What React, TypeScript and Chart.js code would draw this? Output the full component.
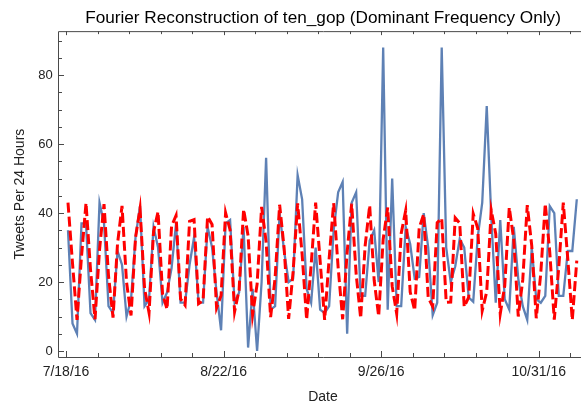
import { useEffect, useRef } from "react";
import { Chart, registerables } from "chart.js";

Chart.register(...registerables);

// Daily tweet counts starting 7/18/16 (one value per day)
const tweetCounts = [
  35, 8, 5, 37, 37, 11, 9, 43, 37, 13,
  11, 29, 25, 10, 15, 33, 42, 13, 15, 36,
  30, 14, 17, 24, 37, 14, 14, 25, 33, 14,
  14, 36, 30, 17, 6, 37, 38, 14, 17, 36,
  1, 18, 0, 20, 56, 12, 13, 40, 29, 20,
  21, 51, 44, 18, 14, 30, 12, 11, 13, 35,
  46, 49, 5, 43, 46, 16, 16, 32, 35, 20,
  88, 12, 50, 13, 13, 36, 31, 21, 21.5, 40,
  30, 10.4, 14, 88, 30, 20, 24.5, 32.5, 30, 15.5,
  14.3, 33, 43, 71, 39, 14, 38, 15, 12, 36,
  21, 13, 9, 30, 15, 14, 16, 42, 40, 16,
  16, 29, 29, 44,
];

// Dominant-frequency reconstruction
const fourierFit = [
  43.0, 25.5, 9.0, 27.4, 42.9, 23.6, 9.2, 29.3, 42.6, 21.8,
  9.7, 31.1, 42.1, 20.0, 10.3, 32.9, 41.3, 18.2, 11.1, 34.6,
  40.4, 16.6, 12.1, 36.2, 39.3, 15.1, 13.3, 37.6, 38.1, 13.7,
  14.6, 39.0, 36.7, 12.5, 16.1, 40.1, 35.1, 11.4, 17.7, 41.1,
  33.4, 10.5, 19.4, 41.8, 31.7, 9.8, 21.2, 42.4, 29.9, 9.3,
  23.0, 42.8, 28.0, 9.1, 24.9, 43.0, 26.1, 9.0, 26.8, 42.9,
  24.2, 9.2, 28.7, 42.7, 22.3, 9.5, 30.6, 42.2, 20.5, 10.1,
  32.4, 41.6, 18.8, 10.8, 34.1, 40.7, 17.1, 11.8, 35.7, 39.7,
  15.5, 12.9, 37.2, 38.5, 14.1, 14.2, 38.6, 37.1, 12.8, 15.6,
  39.8, 35.6, 11.7, 17.2, 40.8, 34.0, 10.8, 18.9, 41.6, 32.3,
  10.0, 20.6, 42.3, 30.5, 9.5, 22.5, 42.7, 28.6, 9.1, 24.3,
  43.0, 26.7, 9.0, 26.2,
];

const sampleOffsetDays = 0.44; // time of day of each daily sample, in days
const xTickDays = [0, 35, 70, 105];
const xTickLabels = ["7/18/16", "8/22/16", "9/26/16", "10/31/16"];
const xMinorStepDays = 7;
const yTickValues = [0, 20, 40, 60, 80];
const yMinorStep = 5;

const FONT = "'Liberation Sans', Arial, Helvetica, sans-serif";

const framePlugin = {
  id: "frame",
  afterDatasetsDraw(chart: any) {
    const { ctx, chartArea, scales } = chart;
    const { left, right, top, bottom } = chartArea;
    const x = scales.x;
    const y = scales.y;
    ctx.save();
    ctx.strokeStyle = "#4a4a4a";
    ctx.lineWidth = 1;
    ctx.beginPath();
    ctx.rect(left + 0.5, top + 0.5, right - left, bottom - top);
    for (let d = 0; d <= x.max; d += xMinorStepDays) {
      if (d < x.min) continue;
      const px = Math.round(x.getPixelForValue(d)) + 0.5;
      const major = xTickDays.includes(d);
      ctx.moveTo(px, bottom);
      ctx.lineTo(px, bottom - (major ? 6 : 4));
      ctx.moveTo(px, top);
      ctx.lineTo(px, top + (major ? 4 : 3));
    }
    for (let v = 0; v <= y.max; v += yMinorStep) {
      const py = Math.round(y.getPixelForValue(v)) + 0.5;
      const major = yTickValues.includes(v);
      ctx.moveTo(left, py);
      ctx.lineTo(left + (major ? 6 : 4), py);
      ctx.moveTo(right, py);
      ctx.lineTo(right - (major ? 6 : 4), py);
    }
    ctx.stroke();
    ctx.restore();
  },
};

export default function App() {
  const canvasRef = useRef<HTMLCanvasElement | null>(null);

  useEffect(() => {
    const canvas = canvasRef.current;
    if (!canvas) return;
    const chart = new Chart(canvas, {
      type: "line",
      data: {
        datasets: [
          {
            label: "Fourier",
            data: fourierFit.map((v, i) => ({ x: i + sampleOffsetDays, y: v })),
            borderColor: "#ff0000",
            borderWidth: 3,
            borderDash: [10, 4],
            pointRadius: 0,
            tension: 0,
            fill: false,
            order: 0,
          },
          {
            label: "ten_gop",
            data: tweetCounts.map((v, i) => ({ x: i + sampleOffsetDays, y: v })),
            borderColor: "#5e81b5",
            borderWidth: 2.3,
            pointRadius: 0,
            tension: 0,
            fill: false,
            order: 1,
          },
        ],
      },
      options: {
        responsive: false,
        animation: false,
        devicePixelRatio: 1,
        layout: { padding: { left: 0, right: 2, top: 0, bottom: 0 } },
        plugins: {
          legend: { display: false },
          tooltip: { enabled: false },
          title: {
            display: true,
            text: "Fourier Reconstruction of ten_gop (Dominant Frequency Only)",
            fullSize: false,
            color: "#000",
            font: { family: FONT, size: 17.2, weight: "normal" },
            padding: { top: 7.5, bottom: 3 },
          },
        },
        scales: {
          x: {
            type: "linear",
            min: -1.78,
            max: 115.93,
            grid: { display: false, drawTicks: false },
            border: { display: false },
            afterBuildTicks: (axis: any) => {
              axis.ticks = xTickDays.map((v) => ({ value: v }));
            },
            afterFit: (axis: any) => {
              axis.height = 49;
            },
            ticks: {
              autoSkip: false,
              maxRotation: 0,
              padding: 6.5,
              color: "#222",
              font: { family: FONT, size: 14 },
              callback: (value: any) => {
                const idx = xTickDays.indexOf(Number(value));
                return idx >= 0 ? xTickLabels[idx] : "";
              },
            },
            title: {
              display: true,
              text: "Date",
              color: "#222",
              font: { family: FONT, size: 14 },
              padding: { top: 0, bottom: 0 },
            },
          },
          y: {
            min: -1.74,
            max: 92.75,
            grid: { display: false, drawTicks: false },
            border: { display: false },
            afterBuildTicks: (axis: any) => {
              axis.ticks = yTickValues.map((v) => ({ value: v }));
            },
            afterFit: (axis: any) => {
              axis.width = 58;
            },
            ticks: {
              padding: 5.3,
              color: "#222",
              font: { family: FONT, size: 13 },
            },
            title: {
              display: true,
              text: "Tweets Per 24 Hours",
              color: "#222",
              font: { family: FONT, size: 14 },
              padding: { top: 11.6, bottom: 0 },
            },
          },
        },
      },
      plugins: [framePlugin],
    });
    return () => chart.destroy();
  }, []);

  return (
    <div
      style={{
        position: "absolute",
        left: 0,
        top: 0,
        width: 581,
        height: 406,
        overflow: "hidden",
        background: "#fff",
      }}
    >
      <canvas ref={canvasRef} width={590} height={406} style={{ display: "block" }} />
    </div>
  );
}
